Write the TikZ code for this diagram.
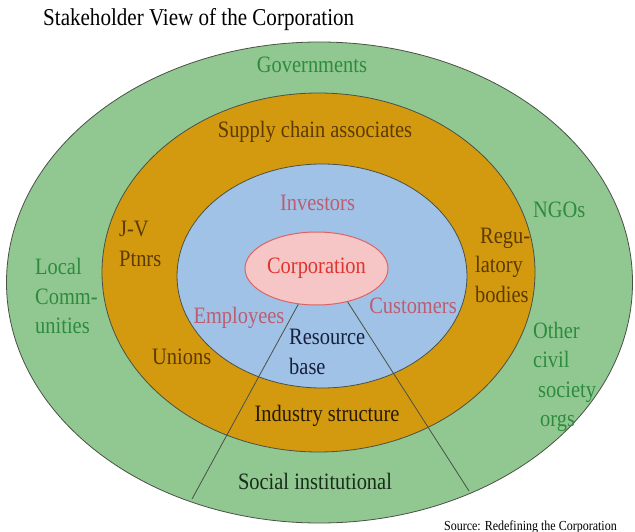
\documentclass[tikz,border=0pt]{standalone}
\usepackage{fontspec}
\setmainfont[FakeStretch=0.87]{Liberation Serif}
\usepackage{tikz, xcolor}
\usetikzlibrary{shapes}

\definecolor{ringgreen}{RGB}{145,200,145}
\definecolor{ringorange}{RGB}{211,154,16}
\definecolor{ringblue}{RGB}{160,194,230}
\definecolor{corpfill}{RGB}{246,198,198}
\definecolor{corpline}{RGB}{220,100,100}
\definecolor{ringline}{RGB}{75,80,70}
\definecolor{govgreen}{RGB}{46,139,62}
\definecolor{supbrown}{RGB}{92,58,0}
\definecolor{invpink}{RGB}{190,92,112}
\definecolor{corpred}{RGB}{222,52,46}
\definecolor{resnavy}{RGB}{22,32,62}
\definecolor{inddark}{RGB}{40,26,0}
\definecolor{socialdark}{RGB}{24,44,26}

\begin{document}
\begin{tikzpicture}[x=1pt, y=-1pt]
\tikzstyle{ring}=[draw=ringline, line width=0.8pt]
\tikzstyle{ringlabel}=[inner sep=0pt, font=\fontsize{23.5}{29.5}\selectfont]
\tikzstyle{corpnode}=[ellipse, draw=corpline, fill=corpfill, line width=1pt, minimum width=143pt, minimum height=73pt, inner sep=0pt]
\tikzstyle{drawstyle}=[line width=0.8pt, draw=ringline]

\fill[white] (0,0) rectangle (635,532);
\useasboundingbox (0,0) rectangle (635,532);

\node[inner sep=0pt, font=\fontsize{24.2}{28}\selectfont, anchor=base west] (title) at (43,26) {Stakeholder View of the Corporation};

% rings
\filldraw[ring, fill=ringgreen] (319.5,282.5) ellipse [x radius=313pt, y radius=240.5pt];
\filldraw[ring, fill=ringorange] (318.5,272.5) ellipse [x radius=216.5pt, y radius=179.5pt];
\filldraw[ring, fill=ringblue] (322,276) ellipse [x radius=145pt, y radius=112pt];
\node[corpnode, text=corpred, font=\fontsize{23.5}{28}\selectfont] (corp) at (316.5,268.5) {Corporation};

% cut lines
\coordinate (cutL) at (192,499);
\coordinate (cutR) at (469,491);
\draw[drawstyle] (corp.-117) -- (cutL);
\draw[drawstyle] (corp.-47) -- (cutR);

% outer ring
\node[ringlabel, text=govgreen] (gov) at (312,65) {Governments};
\node[ringlabel, text=govgreen, align=left, anchor=west] (local) at (35,296) {Local\\Comm-\\unities};
\node[ringlabel, text=govgreen, anchor=west] (ngo) at (533,210) {NGOs};
\node[ringlabel, text=govgreen, align=left, anchor=west] (civil) at (533,377) {Other\\civil\\\hspace*{5pt}society\\\hspace*{7pt}orgs};
\node[ringlabel, text=socialdark] (social) at (315,481) {Social institutional};

% middle ring
\node[ringlabel, text=supbrown] (supply) at (315,132) {Supply chain associates};
\node[ringlabel, text=supbrown, align=left, anchor=west] (jv) at (119,244) {J-V\\Ptnrs};
\node[ringlabel, text=supbrown, anchor=west] (unions) at (152,357) {Unions};
\node[ringlabel, text=supbrown, align=left, anchor=west] (reg) at (475,265) {\hspace*{5pt}Regu-\\latory\\bodies};
\node[ringlabel, text=inddark] (industry) at (327,416) {Industry structure};

% inner ring
\node[ringlabel, text=invpink] (inv) at (317.5,203) {Investors};
\node[ringlabel, text=invpink] (emp) at (239,318) {Employees};
\node[ringlabel, text=invpink] (cust) at (413,306) {Customers};
\node[ringlabel, text=resnavy, align=left, anchor=west] (res) at (289,352) {Resource\\base};

\node[inner sep=0pt, font=\fontsize{13.8}{16}\selectfont, anchor=east] (src) at (617,527) {Source: Redefining the Corporation};
\end{tikzpicture}
\end{document}
